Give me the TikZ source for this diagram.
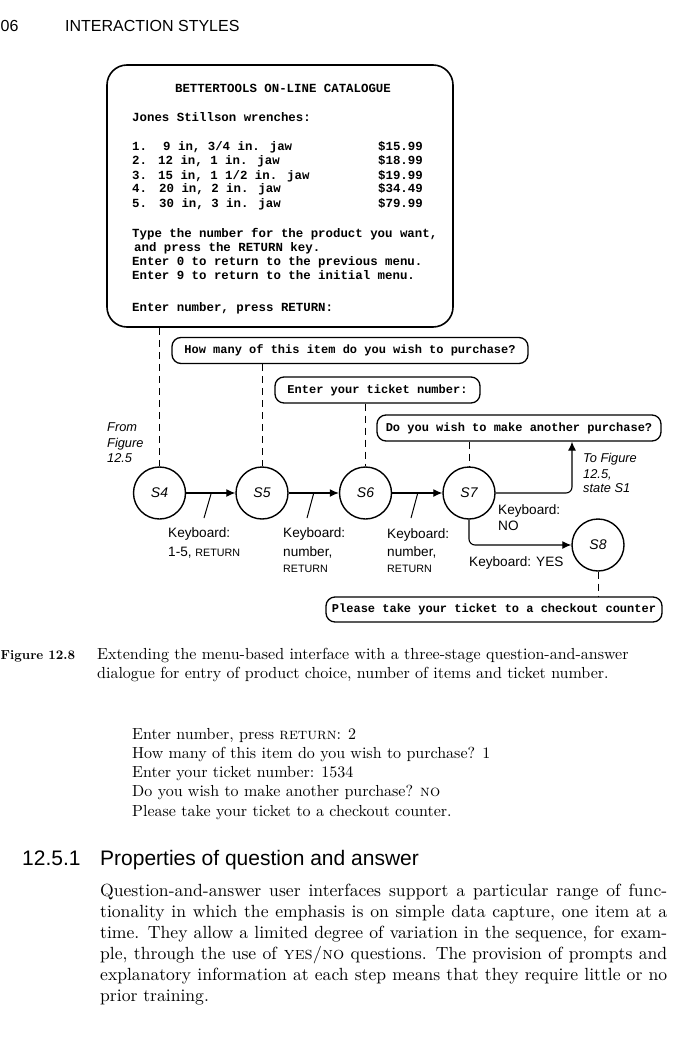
\documentclass[tikz,border=0pt]{standalone}
\usepackage{fontspec}
\newfontfamily\sansf{Liberation Sans}
\newfontfamily\monof{Liberation Mono}
\newfontfamily\serf{lmroman10-regular}[Extension=.otf, BoldFont=lmroman10-bold, SmallCapsFont=lmromancaps10-regular]
\usetikzlibrary{arrows.meta}
\newcommand\ssc[1]{{\fontsize{10.7}{12}\selectfont #1}}
\begin{document}
\begin{tikzpicture}[x=1pt,y=-1pt,
  menubox/.style={draw, line width=1.6pt, rounded corners=20pt, minimum width=346pt, minimum height=262pt, inner sep=0pt},
  qbox/.style={draw, line width=1.3pt, rounded corners=9pt, minimum height=26pt, inner sep=0pt, font=\monof\bfseries\fontsize{12}{14}\selectfont},
  scr/.style={anchor=base west, inner sep=0pt, font=\monof\bfseries\fontsize{12.4}{14}\selectfont},
  state/.style={circle, draw, line width=1.4pt, minimum size=52pt, inner sep=0pt, font=\sansf\itshape\fontsize{14}{16}\selectfont},
  lbl/.style={anchor=base west, inner sep=0pt, font=\sansf\fontsize{13.6}{16}\selectfont},
  ilbl/.style={anchor=base west, inner sep=0pt, font=\sansf\itshape\fontsize{12.8}{15}\selectfont},
  arr/.style={line width=1.1pt, -{Latex[length=9pt,width=8pt]}},
  dsh/.style={line width=1pt, dash pattern=on 7pt off 5pt},
  tick/.style={line width=1pt},
  serif/.style={anchor=base west, inner sep=0pt, font=\serf\fontsize{16}{19.5}\selectfont},
  body/.style={anchor=base west, inner sep=0pt, font=\serf\fontsize{17.6}{21}\selectfont},
  hsans/.style={anchor=base west, inner sep=0pt, font=\sansf\fontsize{16}{18}\selectfont},
  secsans/.style={anchor=base west, inner sep=0pt, font=\sansf\fontsize{21}{24}\selectfont},
]
\fill[white] (0,0) rectangle (700,1043);
\useasboundingbox (0,0) rectangle (700,1043);

% running head
\node[hsans] (pnum) at (0.5,32) {06};
\node[hsans] (running) at (65,32) {INTERACTION STYLES};

% menu screen
\node[menubox] (menu) at (280,196) {};
\node[scr, anchor=base] (mtitle) at (283,93) {BETTERTOOLS ON-LINE CATALOGUE};
\node[scr] (mhead) at (132,122) {Jones Stillson wrenches:};
\node[scr] (n1) at (132,151) {1.};
\node[scr] (n2) at (132,165) {2.};
\node[scr] (n3) at (132,179) {3.};
\node[scr] (n4) at (132,193) {4.};
\node[scr] (n5) at (132,207) {5.};
\node[scr] (d1) at (163,151) {9 in, 3/4 in. jaw};
\node[scr] (d2) at (158,165) {12 in, 1 in. jaw};
\node[scr] (d3) at (158,179) {15 in, 1 1/2 in. jaw};
\node[scr] (d4) at (159,193) {20 in, 2 in. jaw};
\node[scr] (d5) at (159,207) {30 in, 3 in. jaw};
\node[scr, anchor=base east] (p1) at (423,151) {\$15.99};
\node[scr, anchor=base east] (p2) at (423,165) {\$18.99};
\node[scr, anchor=base east] (p3) at (423,179) {\$19.99};
\node[scr, anchor=base east] (p4) at (423,193) {\$34.49};
\node[scr, anchor=base east] (p5) at (423,207) {\$79.99};
\node[scr] (t1) at (132,237) {Type the number for the product you want,};
\node[scr] (t2) at (134,251) {and press the RETURN key.};
\node[scr] (t3) at (132,265) {Enter 0 to return to the previous menu.};
\node[scr] (t4) at (132,279) {Enter 9 to return to the initial menu.};
\node[scr] (mprompt) at (132,311) {Enter number, press RETURN:};

% question boxes
\node[qbox, minimum width=356pt] (q1) at (350,350.5) {How many of this item do you wish to purchase?};
\node[qbox, minimum width=205pt] (q2) at (377.5,390) {Enter your ticket number:};
\node[qbox, minimum width=284pt] (q3) at (519,428) {Do you wish to make another purchase?};
\node[qbox, minimum width=336pt, minimum height=25pt] (q4) at (494,609.5) {Please take your ticket to a checkout counter};

% states
\node[state] (S4) at (159.5,493) {S4};
\node[state] (S5) at (262,493) {S5};
\node[state] (S6) at (365.5,493) {S6};
\node[state] (S7) at (469,493) {S7};
\node[state] (S8) at (598,545) {S8};

% dashed links
\draw[dsh] (menu.south -| S4.north) -- (S4.north);
\draw[dsh] (q1.south -| S5.north) -- (S5.north);
\draw[dsh] (q2.south -| S6.north) -- (S6.north);
\draw[dsh] (q3.south -| S7.north) -- (S7.north);
\draw[dsh] (S8.south) -- (S8.south |- q4.north);

% transitions
\draw[arr] (S4) -- (S5);
\draw[arr] (S5) -- (S6);
\draw[arr] (S6) -- (S7);
\coordinate (nox) at (572,0);
\draw[arr, rounded corners=6pt] (S7.east) -| (q3.south -| nox);
\draw[arr, rounded corners=6pt] (S7.south) |- (S8.west);

% label leaders
\coordinate (k1a) at (211,494); \coordinate (k1b) at (204,518);
\coordinate (k2a) at (313.5,494); \coordinate (k2b) at (307,518);
\coordinate (k3a) at (417.5,494); \coordinate (k3b) at (411,518);
\draw[tick] (k1a) -- (k1b);
\draw[tick] (k2a) -- (k2b);
\draw[tick] (k3a) -- (k3b);

% labels
\node[ilbl] (from1) at (107,431.7) {From};
\node[ilbl] (from2) at (107,447) {Figure};
\node[ilbl] (from3) at (107,462.7) {12.5};
\node[lbl] (kb1a) at (168,537) {Keyboard:};
\node[lbl] (kb1b) at (168,556.7) {1-5, \ssc{RETURN}};
\node[lbl] (kb2a) at (283,537) {Keyboard:};
\node[lbl] (kb2b) at (283,556.5) {number,};
\node[lbl] (kb2c) at (283,572.5) {\ssc{RETURN}};
\node[lbl] (kb3a) at (387,538) {Keyboard:};
\node[lbl] (kb3b) at (387,556) {number,};
\node[lbl] (kb3c) at (387,572) {\ssc{RETURN}};
\node[lbl] (kb4a) at (498,514) {Keyboard:};
\node[lbl] (kb4b) at (498,530.7) {NO};
\node[lbl] (kb5) at (469,566.7) {Keyboard: YES};
\node[ilbl] (to1) at (583,462.7) {To Figure};
\node[ilbl] (to2) at (583,478) {12.5,};
\node[ilbl] (to3) at (583,492.7) {state S1};

% caption
\node[anchor=base west, inner sep=0pt, font=\serf\bfseries\fontsize{13.1}{19.5}\selectfont] (fignum) at (0.5,659) {Figure 12.8};
\node[serif] (cap1) at (97,659) {Extending the menu-based interface with a three-stage question-and-answer};
\node[serif] (cap2) at (97,678.5) {dialogue for entry of product choice, number of items and ticket number.};

% dialogue example
\node[serif] (ex1) at (132,739) {Enter number, press \textsc{return}: 2};
\node[serif] (ex2) at (132,758.3) {How many of this item do you wish to purchase? 1};
\node[serif] (ex3) at (132,777.6) {Enter your ticket number: 1534};
\node[serif] (ex4) at (132,796.9) {Do you wish to make another purchase? \textsc{no}};
\node[serif] (ex5) at (132,816.2) {Please take your ticket to a checkout counter.};

% section
\node[secsans] (secnum) at (22,865) {12.5.1};
\node[secsans] (sectitle) at (100,865) {Properties of question and answer};

\node[body] (b1) at (100,896.7) {\makebox[567pt][s]{Question-and-answer user interfaces support a particular range of func-}};
\node[body] (b2) at (100,917.7) {\makebox[567pt][s]{tionality in which the emphasis is on simple data capture, one item at a}};
\node[body] (b3) at (100,938.7) {\makebox[567pt][s]{time. They allow a limited degree of variation in the sequence, for exam-}};
\node[body] (b4) at (100,959.7) {\makebox[567pt][s]{ple, through the use of \textsc{yes/no} questions. The provision of prompts and}};
\node[body] (b5) at (100,980.7) {\makebox[567pt][s]{explanatory information at each step means that they require little or no}};
\node[body] (b6) at (100,1001.7) {prior training.};
\end{tikzpicture}
\end{document}
